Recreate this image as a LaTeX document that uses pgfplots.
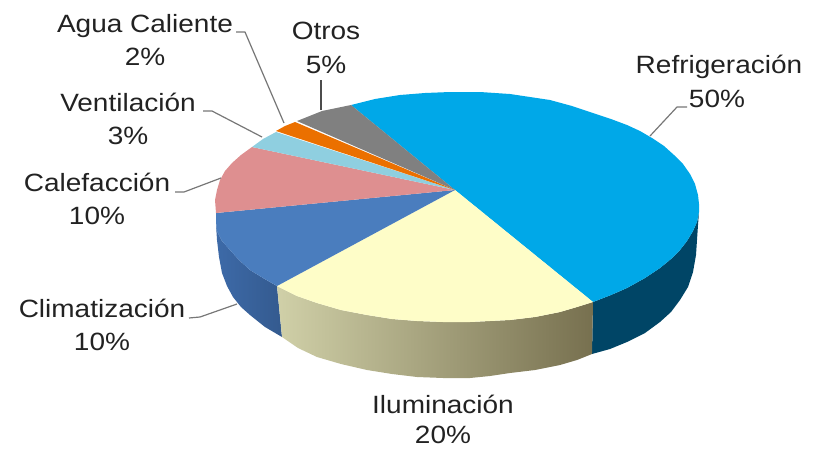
\documentclass[border=0pt]{standalone}
\usepackage{fontspec}
\setmainfont[FakeStretch=1.12]{Liberation Sans}
\usepackage{pgfplots}
\pgfplotsset{compat=1.18}
\definecolor{cRef}{HTML}{00A8E8}
\definecolor{cRefS}{HTML}{004566}
\definecolor{cGris}{HTML}{808080}
\definecolor{cNar}{HTML}{EB7000}
\definecolor{cVen}{HTML}{8FCFE0}
\definecolor{cCal}{HTML}{DE8F90}
\definecolor{cCli}{HTML}{4A7DBE}
\definecolor{cCliS}{HTML}{3D6AA8}
\definecolor{cIlu}{HTML}{FEFDC8}
\definecolor{cTxt}{HTML}{222222}
\definecolor{cLead}{HTML}{777777}
\definecolor{cSideL}{HTML}{D0D0A8}
\definecolor{cSideM}{HTML}{ABAB85}
\definecolor{cSideR}{HTML}{77704F}
\begin{document}
\begin{tikzpicture}
\begin{axis}[
  scale only axis, width=816pt, height=448pt,
  xmin=0, xmax=816, ymin=0, ymax=448, y dir=reverse,
  axis lines=none, clip=false,
  every axis plot/.append style={line join=round},
]
\path[use as bounding box] (axis cs:0,0) rectangle (axis cs:816,448);
% sides
\addplot[draw=none, fill=cRefS] coordinates {(699,212)(698,225)(697,240)(696,255)(693,272)(688,287)(680,300)(671,312)(660,322)(645,333)(627,342)(610,349)(592,354)(593,302)(611,295)(627,288)(645,278)(660,268)(671,259)(680,250)(687,241)(693,231)(697,222)} -- cycle;
\addplot[draw=none, left color=cCliS, right color=cCliS!85!black] coordinates {(216,210)(216,225)(217,240)(219,257)(222,273)(227,286)(233,297)(241,307)(250,315)(265,327)(282,337)(277,286)(263,278)(250,270)(239,260)(230,250)(222,241)(217,231)(216,222)} -- cycle;
\addplot[draw=none, left color=cSideL, middle color=cSideM, right color=cSideR] coordinates {(277,286)(282,337)(298,348)(317,357)(341,364)(367,370)(392,374)(417,377)(443,378)(470,378)(490,376)(510,373)(535,370)(560,365)(577,360)(592,354)(593,302)(577,307)(560,312)(535,317)(510,320)(490,321)(470,322)(443,322)(417,321)(392,319)(367,315)(341,310)(317,303)(297,296)} -- cycle;
% top
\addplot[draw=none, fill=cRef] coordinates {(455,190)(351,105)(375,99)(400,95)(425,93)(450,92)(480,92)(510,94)(530,97)(550,100)(572,106)(593,113)(611,119)(627,125)(640,131)(652,138)(664,146)(674,155)(683,164)(690,174)(695,184)(698,195)(699,204)(699,212)(697,222)(693,231)(687,241)(680,250)(671,259)(660,268)(645,278)(627,288)(611,295)(593,302)} -- cycle;
\addplot[draw=none, fill=cIlu] coordinates {(455,190)(593,302)(577,307)(560,312)(535,317)(510,320)(490,321)(470,322)(443,322)(417,321)(392,319)(367,315)(341,310)(317,303)(297,296)(277,286)} -- cycle;
\addplot[draw=none, fill=cCli] coordinates {(455,190)(277,286)(263,278)(250,270)(239,260)(230,250)(222,241)(217,231)(216,222)(216,213)} -- cycle;
\addplot[draw=none, fill=cCal] coordinates {(455,190)(216,213)(215,200)(217,190)(220,180)(225,171)(232,163)(241,155)(252,147)} -- cycle;
\addplot[draw=none, fill=cVen] coordinates {(455,190)(252,147)(263,139)(276,132)} -- cycle;
\addplot[draw=none, fill=cNar] coordinates {(455,190)(276,131)(285,126)(295,122)} -- cycle;
\addplot[draw=none, fill=cGris] coordinates {(455,190)(297,121)(322,111)(351,105)} -- cycle;
% leaders
\addplot[cLead, line width=1.2pt] coordinates {(236,32)(245,32)(284,123)};
\addplot[black!70, line width=1.2pt] coordinates {(321,80)(321,110)};
\addplot[cLead, line width=1.2pt] coordinates {(203,111)(212,111)(262,137)};
\addplot[cLead, line width=1.2pt] coordinates {(175,192)(184,192)(221,178)};
\addplot[cLead, line width=1.2pt] coordinates {(687,107)(677,107)(650,136)};
\addplot[cLead, line width=1.2pt] coordinates {(189,318)(200,317)(237,304)};
% labels
\newcommand{\lab}[3]{\node[anchor=base, text=cTxt, font=\fontsize{25}{30}\selectfont, inner sep=0pt] at (axis cs:#1,#2) {#3};}
\lab{145}{32}{Agua Caliente}
\lab{145}{65}{2\%}
\lab{326}{39}{Otros}
\lab{326}{73}{5\%}
\lab{128}{111}{Ventilación}
\lab{128}{144}{3\%}
\lab{97}{191}{Calefacción}
\lab{97}{224}{10\%}
\lab{719}{73}{Refrigeración}
\lab{717}{107}{50\%}
\lab{102}{317}{Climatización}
\lab{102}{350}{10\%}
\lab{443}{413}{Iluminación}
\lab{443}{443}{20\%}
\end{axis}
\end{tikzpicture}
\end{document}
